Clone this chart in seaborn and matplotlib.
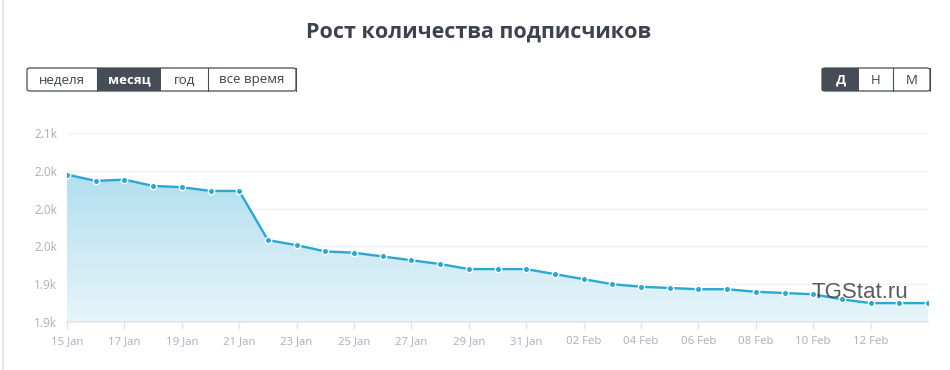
import numpy as np
import pandas as pd
import matplotlib
matplotlib.use("Agg")
import matplotlib.pyplot as plt
import matplotlib.dates as mdates
from matplotlib.patches import Rectangle, FancyBboxPatch, Polygon
from matplotlib.colors import LinearSegmentedColormap
from matplotlib.lines import Line2D
import seaborn as sns

# daily subscriber counts, 15 Jan .. 14 Feb
dates = pd.date_range("2024-01-15", "2024-02-14", freq="D")
subscribers = [2037, 2032, 2033, 2028, 2027, 2024, 2024, 1985, 1981, 1976,
               1975, 1972, 1969, 1966, 1962, 1962, 1962, 1958, 1954, 1950,
               1948, 1947, 1946, 1946, 1944, 1943, 1942, 1938, 1935, 1935,
               1935]

y_ticks = [1920, 1950, 1980, 2010, 2040, 2070]
y_tick_labels = ["1.9k", "1.9k", "2.0k", "2.0k", "2.0k", "2.1k"]
x_tick_dates = pd.date_range("2024-01-15", "2024-02-12", freq="2D")

title = "Рост количества подписчиков"
range_buttons = ["неделя", "месяц", "год", "все время"]
step_buttons = ["Д", "Н", "М"]

W, H = 950, 370
LINE = "#2aa7d3"
LABEL = "#a7aec0"
DARK = "#474d57"

sns.set_theme(style="white")
plt.rcParams["font.family"] = ["Open Sans", "DejaVu Sans"]

fig = plt.figure(figsize=(W / 100, H / 100), dpi=100)
fig.patch.set_facecolor("white")


def fx(px):
    return px / W


def fy(py):
    return 1 - py / H


ax = fig.add_axes([fx(67), fy(322), fx(928) - fx(67), fy(133) - fy(322)])
df = pd.DataFrame({"date": dates, "subs": subscribers})

# gradient area under the line
x0, x1 = mdates.date2num(dates[0]), mdates.date2num(dates[-1])
cmap = LinearSegmentedColormap.from_list("area", ["#a3d9eb", "#e7f5fa"])
grad = np.linspace(0, 1, 256).reshape(-1, 1)
img = ax.imshow(grad, cmap=cmap, aspect="auto", extent=[x0, x1, 1920, 2070],
                origin="upper", zorder=1)
xs = mdates.date2num(dates)
poly = Polygon(np.column_stack([np.r_[xs, xs[-1], xs[0]],
                                np.r_[subscribers, 1920, 1920]]),
               closed=True, facecolor="none", edgecolor="none")
ax.add_patch(poly)
img.set_clip_path(poly)

sns.lineplot(data=df, x="date", y="subs", ax=ax, color=LINE, linewidth=1.7,
             marker="o", markersize=4.6, markeredgecolor="white",
             markeredgewidth=1.0, zorder=3)

ax.set_xlim(x0, x1)
ax.set_ylim(1920, 2070)
ax.set_yticks(y_ticks)
ax.set_yticklabels(y_tick_labels)
ax.set_xticks(mdates.date2num(x_tick_dates))
ax.set_xticklabels([d.strftime("%d %b") for d in x_tick_dates])
ax.set_xlabel("")
ax.set_ylabel("")
ax.grid(axis="y", color="#f3f3f5", linewidth=1)
ax.set_axisbelow(True)
for s in ["top", "right", "left"]:
    ax.spines[s].set_visible(False)
ax.spines["bottom"].set_color("#e3e5ea")
ax.spines["bottom"].set_linewidth(1.2)
ax.tick_params(axis="x", colors=LABEL, labelsize=8.2, length=5, width=1,
               color="#e3e5ea", pad=5, bottom=True)
ax.tick_params(axis="y", colors=LABEL, labelsize=8.5, length=0, pad=7)
ax.set_facecolor("white")

# watermark
fig.text(fx(860), fy(292), "TGStat.ru", ha="center", va="center",
         fontsize=16, color="#333333", alpha=0.8,
         family=["Liberation Sans", "DejaVu Sans"])

# page border on the left
fig.add_artist(Line2D([fx(3), fx(3)], [0, 1], color="#e4e4ea", linewidth=1.5))

fig.text(fx(479), fy(32), title, ha="center", va="center", fontsize=15.5,
         fontweight="bold", color="#3c434e")


def button_group(edges, labels, active, top=68, bottom=91):
    for i, lab in enumerate(labels):
        l, r = edges[i], edges[i + 1]
        if i == active:
            fig.add_artist(Rectangle((fx(l), fy(bottom)), fx(r) - fx(l),
                                     fy(top) - fy(bottom), facecolor=DARK,
                                     edgecolor="none", transform=fig.transFigure))
        else:
            fig.add_artist(Line2D([fx(r), fx(r)], [fy(bottom), fy(top)],
                                  color=DARK, linewidth=0.8))
        fig.text(fx((l + r) / 2), fy((top + bottom) / 2 + 0.5), lab,
                 ha="center", va="center", fontsize=9.5,
                 color="white" if i == active else "#3c434e",
                 fontweight="bold" if i == active else "normal")
    fig.add_artist(FancyBboxPatch((fx(edges[0]), fy(bottom)),
                                  fx(edges[-1]) - fx(edges[0]),
                                  fy(top) - fy(bottom),
                                  boxstyle="round,pad=0,rounding_size=0.004",
                                  facecolor="none", edgecolor=DARK,
                                  linewidth=0.9, transform=fig.transFigure))


button_group([27, 97, 161, 208, 296], range_buttons, 1)
button_group([822, 859, 893, 930], step_buttons, 0)

fig.savefig("out.png", dpi=100, facecolor="white")
